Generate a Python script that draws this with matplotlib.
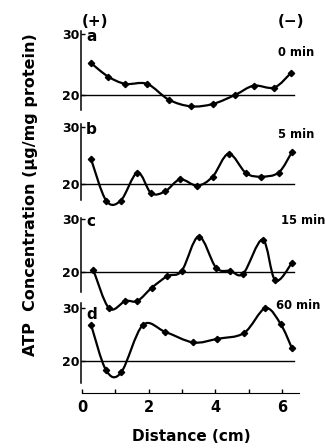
import matplotlib
matplotlib.use("Agg")
import matplotlib.pyplot as plt
import numpy as np
from matplotlib.path import Path
from matplotlib.patches import PathPatch

# distance (cm) and ATP (ug/mg protein)
a_x = [0.27, 0.78, 1.30, 1.95, 2.60, 3.27, 3.93, 4.60, 5.15, 5.77, 6.27]
a_y = [25.2, 23.0, 21.8, 21.8, 19.2, 18.1, 18.5, 20.0, 21.5, 21.2, 23.6]

b_x = [0.27, 0.72, 1.16, 1.66, 2.07, 2.49, 2.94, 3.46, 3.92, 4.40, 4.92, 5.38, 5.90, 6.30]
b_y = [24.3, 17.1, 17.1, 22.0, 18.4, 18.7, 20.8, 19.7, 21.3, 25.3, 21.9, 21.3, 22.0, 25.6]

c_x = [0.34, 0.81, 1.30, 1.66, 2.09, 2.56, 2.99, 3.50, 4.02, 4.45, 4.84, 5.42, 5.80, 6.30]
c_y = [20.3, 13.1, 14.5, 14.5, 17.0, 19.2, 20.2, 26.7, 20.8, 20.2, 19.7, 26.1, 18.4, 21.7]

d_x = [0.27, 0.72, 1.17, 1.82, 2.50, 3.34, 4.06, 4.86, 5.50, 5.96, 6.30]
d_y = [26.8, 18.2, 17.8, 26.8, 25.5, 23.5, 24.2, 25.3, 30.0, 27.0, 22.4]

letters = ["a", "b", "c", "d"]
times = ["0 min", "5 min", "15 min", "60 min"]
yticks = [20, 30]
xticks = [0, 2, 4, 6]

W, H = 325, 448
fig = plt.figure(figsize=(W / 100, H / 100), dpi=100)


def rect(left, top, right, bottom):
    return [left / W, 1 - bottom / H, (right - left) / W, (bottom - top) / H]


def smooth_path(xs, ys):
    # catmull-rom through the points, drawn as cubic bezier segments
    p = np.column_stack([xs, ys])
    p = np.vstack([p[0], p, p[-1]])
    verts = [p[1]]
    codes = [Path.MOVETO]
    for i in range(1, len(p) - 2):
        c1 = p[i] + (p[i + 1] - p[i - 1]) / 6
        c2 = p[i + 1] - (p[i + 2] - p[i]) / 6
        verts += [c1, c2, p[i + 1]]
        codes += [Path.CURVE4] * 3
    return Path(verts, codes)


# panel placement in pixels: top, bottom, ylim, time label x/y, letter y
panels = [
    (a_x, a_y, 31, 110, (17.5, 30.5), 5.88, 27.0, 29.6),
    (b_x, b_y, 124, 200, (17.2, 30.5), 5.88, 28.6, 29.6),
    (c_x, c_y, 218, 292, (16.2, 30.2), 5.96, 29.8, 29.6),
    (d_x, d_y, 303, 383, (15.8, 31.0), 5.83, 30.6, 28.8),
]
xlim = (-0.05, 6.6)
x0 = 80.5
pxcm = 33.3

for i, (xs, ys, top, bot, ylim, tx, ty, ly) in enumerate(panels):
    ax = fig.add_axes(rect(x0, top, x0 + (xlim[1] - xlim[0]) * pxcm, bot))
    ax.patch.set_visible(False)
    ax.set_xlim(*xlim)
    ax.set_ylim(*ylim)
    for s in ["top", "right"]:
        ax.spines[s].set_visible(False)
    ax.spines["left"].set_linewidth(1.1)
    ax.axhline(20, xmin=0, xmax=(6.35 - xlim[0]) / (xlim[1] - xlim[0]), color="black", lw=1.0)
    ax.add_patch(PathPatch(smooth_path(xs, ys), fill=False, lw=1.6, ec="black", clip_on=False))
    ax.plot(xs, ys, ls="none", marker="D", ms=3.2, color="black", clip_on=False)
    ax.set_yticks(yticks)
    ax.set_yticklabels([str(t) for t in yticks], fontsize=9, fontweight="bold")
    ax.tick_params(axis="y", direction="in", length=3, width=1, pad=1)
    ax.text(0.12, ly, letters[i], fontsize=11, fontweight="bold", ha="left", va="center")
    ax.text(tx, ty, times[i], fontsize=8.3, fontweight="bold", ha="left", va="center", clip_on=False)
    if i < 3:
        ax.spines["bottom"].set_visible(False)
        ax.set_xticks([])
    else:
        ax.spines["bottom"].set_position(("outward", 7))
        ax.spines["bottom"].set_bounds(0, 6.5)
        ax.set_xticks(xticks)
        ax.set_xticks([1, 3, 5], minor=True)
        ax.set_xticklabels([str(t) for t in xticks], fontsize=10.5, fontweight="bold")
        ax.tick_params(axis="x", which="both", direction="in", length=3, width=1, pad=5)
        ax.set_xlabel("Distance (cm)", fontsize=11, fontweight="bold", labelpad=10)
    if i == 0:
        ax.text(0.0, 32.0, "(+)", fontsize=11, fontweight="bold", ha="left", va="center")
        ax.text(5.88, 32.0, "(\u2212)", fontsize=11, fontweight="bold", ha="left", va="center")

fig.text(31 / W, 1 - 195 / H, "ATP  Concentration (\u03bcg/mg protein)", rotation=90,
         fontsize=11.5, fontweight="bold", ha="center", va="center")

fig.savefig("out.png", dpi=100)
